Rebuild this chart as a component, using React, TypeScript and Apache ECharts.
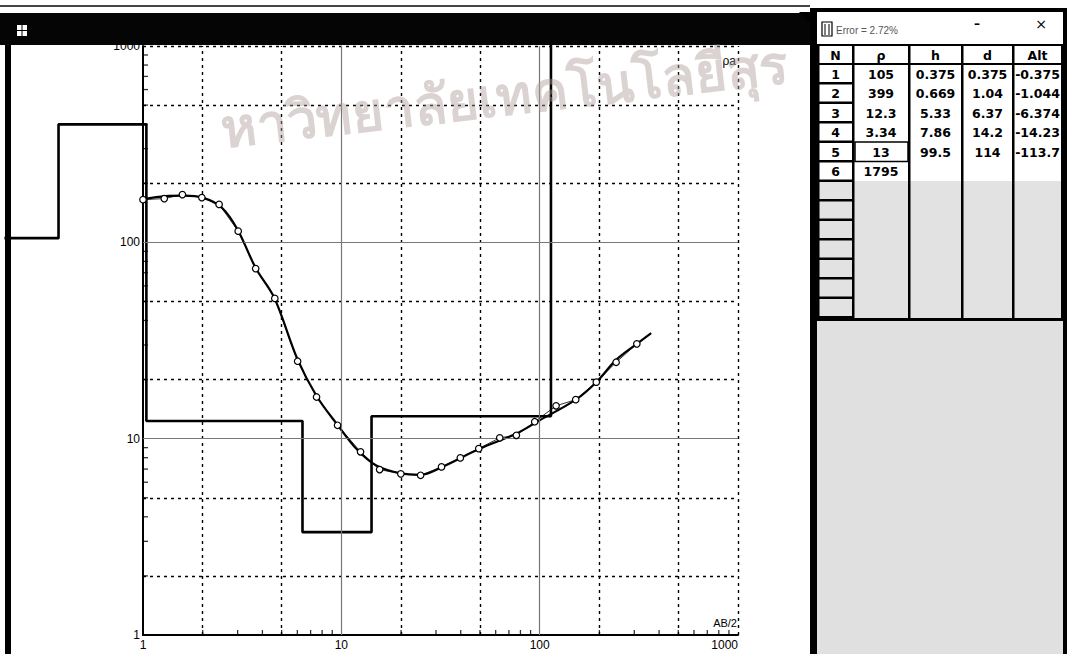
import React, { useEffect, useRef } from "react";
import * as echarts from "echarts";

// Observed apparent resistivity (AB/2 [m], rho_a [Ohm.m])
const abHalf = [1, 1.28, 1.58, 1.98, 2.42, 3.02, 3.7, 4.62, 6.02, 7.5, 9.57, 12.5, 15.6, 19.95, 25.1, 32, 39.8, 49.3, 62.9, 76.3, 94.4, 121, 152, 193, 243, 309];
const rhoObs = [165, 167, 175, 169, 156, 114, 73.5, 51.8, 24.8, 16.3, 11.7, 8.57, 6.96, 6.62, 6.51, 7.18, 7.98, 8.9, 10.1, 10.4, 12.2, 14.7, 15.8, 19.4, 24.5, 30.4];

// Calculated model curve
const curveAB = [1, 1.3, 1.6, 2, 2.5, 3, 3.7, 4.6, 6, 7.5, 9.6, 12, 15, 20, 25, 32, 50, 76, 100, 152, 193, 243, 309, 365];
const curveRho = [166, 172, 173, 169, 150, 116, 74, 52, 25.5, 16.5, 11.7, 8.8, 7.3, 6.65, 6.55, 7.15, 8.9, 10.6, 12.4, 15.8, 19.4, 25.2, 30.4, 34.5];

// Layered model
const layerRho = [105, 399, 12.3, 3.34, 13, 1795];
const layerH = [0.375, 0.669, 5.33, 7.86, 99.5];
const layerDepth = [0.375, 1.04, 6.37, 14.2, 114];
const layerAlt = ["-0.375", "-1.044", "-6.374", "-14.23", "-113.7"];
const modelStartDepth = 0.2;

const minorTicks = [2, 3, 4, 5, 6, 7, 8, 9, 20, 30, 40, 50, 60, 70, 80, 90, 200, 300, 400, 500, 600, 700, 800, 900];
const dashedGrid = [2, 5, 20, 50, 200, 500, 1000];
const solidGrid = [10, 100];
const errorText = "Error = 2.72%";
const headers = ["N", "ρ", "h", "d", "Alt"];
const watermark = "หาวิทยาลัยเทคโนโลยีสุร";

// step model split at AB/2 = 1 (left part drawn in the strip left of the axis)
const stepAll: number[][] = [[modelStartDepth, layerRho[0]]];
layerDepth.forEach((d, i) => {
  stepAll.push([d, layerRho[i]]);
  stepAll.push([d, layerRho[i + 1]]);
});
const rhoAtOne = layerRho[layerDepth.findIndex((d) => d > 1)];
const stepLeft = [...stepAll.filter((p) => p[0] < 1), [1, rhoAtOne]];
const stepMain = [[1, rhoAtOne], ...stepAll.filter((p) => p[0] > 1)];

const FONT = "DejaVu Sans";

function buildTable(): any[] {
  const els: any[] = [];
  const colEdges = [818, 853, 909, 962, 1013, 1062];
  const rowTop0 = 65;
  const pitch = 19.5;
  const totalRows = 13;
  const tableBottom = 318;
  const stip = "#e2e2e2";
  els.push({ type: "rect", shape: { x: 810, y: 8, width: 257, height: 646 }, style: { fill: "#000" }, z: 100 });
  els.push({ type: "polygon", shape: { points: [[799, 12], [818, 12], [813, 26]] }, style: { fill: "#000" }, z: 101 });
  els.push({ type: "rect", shape: { x: 817, y: 12, width: 246, height: 32 }, style: { fill: "#fff" }, z: 101 });
  els.push({ type: "rect", shape: { x: 822, y: 22, width: 10, height: 14 }, style: { fill: "#fff", stroke: "#000", lineWidth: 1.2 }, z: 102 });
  els.push({ type: "line", shape: { x1: 825, y1: 24, x2: 825, y2: 35 }, style: { stroke: "#000", lineWidth: 1 }, z: 102 });
  els.push({ type: "line", shape: { x1: 829, y1: 24, x2: 829, y2: 35 }, style: { stroke: "#000", lineWidth: 1 }, z: 102 });
  els.push({ type: "text", x: 836, y: 30, style: { text: errorText, fontSize: 10, fontFamily: "Liberation Sans", fill: "#555", textVerticalAlign: "middle" }, z: 102 });
  els.push({ type: "text", x: 977, y: 24, style: { text: "–", fontSize: 12, fontWeight: "bold", fontFamily: FONT, fill: "#000", textAlign: "center", textVerticalAlign: "middle" }, z: 102 });
  els.push({ type: "text", x: 1041, y: 24, style: { text: "×", fontSize: 14, fontFamily: FONT, fill: "#000", textAlign: "center", textVerticalAlign: "middle" }, z: 102 });
  for (let c = 0; c < 5; c++) {
    const x0 = colEdges[c] + 1.5;
    const w = colEdges[c + 1] - colEdges[c] - 2.5;
    els.push({ type: "rect", shape: { x: x0, y: 46, width: w, height: 17 }, style: { fill: "#fff" }, z: 101 });
    els.push({ type: "text", x: (colEdges[c] + colEdges[c + 1]) / 2, y: 55, style: { text: headers[c], fontSize: 12.5, fontWeight: "bold", fontFamily: FONT, fill: "#000", textAlign: "center", textVerticalAlign: "middle" }, z: 103 });
  }
  for (let r = 0; r < totalRows; r++) {
    const y0 = rowTop0 + r * pitch;
    const h = Math.min(pitch - 2.5, tableBottom - y0 - 1);
    els.push({ type: "rect", shape: { x: 819.5, y: y0, width: 32.5, height: h }, style: { fill: r < 6 ? "#fff" : stip }, z: 101 });
    if (r < 6) {
      els.push({ type: "text", x: 835.5, y: y0 + h / 2 + 0.5, style: { text: String(r + 1), fontSize: 12.5, fontWeight: "bold", fontFamily: FONT, fill: "#000", textAlign: "center", textVerticalAlign: "middle" }, z: 103 });
    }
  }
  const colTexts: string[][] = [
    layerRho.map((v) => String(v)),
    layerH.map((v) => String(v)),
    layerDepth.map((v) => String(v)),
    layerAlt,
  ];
  for (let c = 1; c < 5; c++) {
    const x0 = colEdges[c] + 1.5;
    const w = colEdges[c + 1] - colEdges[c] - 2.5;
    const split = rowTop0 + 6 * pitch - 1;
    els.push({ type: "rect", shape: { x: x0, y: rowTop0, width: w, height: split - rowTop0 }, style: { fill: "#fff" }, z: 101 });
    els.push({ type: "rect", shape: { x: x0, y: split, width: w, height: tableBottom - split }, style: { fill: stip }, z: 101 });
    colTexts[c - 1].forEach((t, r) => {
      const y0 = rowTop0 + r * pitch;
      els.push({ type: "text", x: (colEdges[c] + colEdges[c + 1]) / 2, y: y0 + (pitch - 2.5) / 2 + 0.5, style: { text: t, fontSize: 12.5, fontWeight: "bold", fontFamily: FONT, fill: "#000", textAlign: "center", textVerticalAlign: "middle" }, z: 103 });
    });
  }
  els.push({ type: "rect", shape: { x: 855, y: rowTop0 + 4 * pitch - 1, width: 53, height: pitch }, style: { fill: "none", stroke: "#000", lineWidth: 1.5 }, z: 104 });
  els.push({ type: "rect", shape: { x: 817, y: 321, width: 246, height: 333 }, style: { fill: "#e0e0e0" }, z: 101 });
  return els;
}

function buildOption(): any {
  const dashStyle = { type: [3, 4], color: "#000", width: 1.4 };
  const solidStyle = { type: "solid", color: "#777", width: 1.2 };
  const markData: any[] = [];
  dashedGrid.forEach((v) => {
    markData.push({ xAxis: v, lineStyle: dashStyle });
    markData.push({ yAxis: v, lineStyle: dashStyle });
  });
  solidGrid.forEach((v) => {
    markData.push({ xAxis: v, lineStyle: solidStyle });
    markData.push({ yAxis: v, lineStyle: solidStyle });
  });

  const axisCommon = {
    type: "log",
    logBase: 10,
    min: 1,
    max: 1000,
    axisTick: { show: false },
    minorTick: { show: false },
    splitLine: { show: false },
    minorSplitLine: { show: false },
    axisLine: { show: true, onZero: false, lineStyle: { color: "#000", width: 2 } },
  };
  const labelCommon = { color: "#000", fontSize: 12, fontFamily: "Liberation Sans", formatter: (v: number) => String(v) };

  const graphics: any[] = [
    { type: "rect", shape: { x: 0, y: 0, width: 810, height: 13 }, style: { fill: "#fff" }, z: 100 },
    { type: "rect", shape: { x: 0, y: 5, width: 810, height: 2 }, style: { fill: "#444" }, z: 100 },
    { type: "rect", shape: { x: 0, y: 13, width: 810, height: 32 }, style: { fill: "#050505" }, z: 100 },
    { type: "rect", shape: { x: 17, y: 25, width: 10, height: 11 }, style: { fill: "#fff" }, z: 101 },
    { type: "line", shape: { x1: 22, y1: 25, x2: 22, y2: 36 }, style: { stroke: "#000", lineWidth: 1 }, z: 102 },
    { type: "line", shape: { x1: 17, y1: 30.5, x2: 27, y2: 30.5 }, style: { stroke: "#000", lineWidth: 1 }, z: 102 },
    { type: "rect", shape: { x: 5, y: 45, width: 6, height: 609 }, style: { fill: "#000" }, z: 100 },
    { type: "text", x: 736, y: 61, style: { text: "ρa", fontSize: 12, fontFamily: "Liberation Sans", fill: "#000", textAlign: "right", textVerticalAlign: "middle" }, z: 50 },
    { type: "text", x: 737, y: 623, style: { text: "AB/2", fontSize: 11, fontFamily: "Liberation Sans", fill: "#000", textAlign: "right", textVerticalAlign: "middle" }, z: 50 },
    ...buildTable(),
    { type: "text", x: 224, y: 156, rotation: 0.115, style: { text: watermark, fontSize: 54, fontWeight: "bold", fill: "#b09c9c", opacity: 0.45, textVerticalAlign: "bottom" }, z: 200, silent: true },
  ];

  return {
    animation: false,
    backgroundColor: "#fff",
    grid: [
      { left: 143, top: 46, width: 595, height: 589 },
      { left: 4.4, top: 46, width: 138.6, height: 589 },
    ],
    xAxis: [
      { ...axisCommon, gridIndex: 0, axisLabel: { ...labelCommon, margin: 4, alignMaxLabel: "right" } },
      { type: "log", logBase: 10, min: modelStartDepth, max: 1, gridIndex: 1, show: false },
    ],
    yAxis: [
      { ...axisCommon, gridIndex: 0, axisLabel: { ...labelCommon, margin: 3 } },
      { type: "log", logBase: 10, min: 1, max: 1000, gridIndex: 1, show: false },
    ],
    graphic: graphics,
    series: [
      {
        type: "line",
        data: [],
        silent: true,
        z: 1,
        markLine: {
          silent: true,
          symbol: ["none", "none"],
          label: { show: false },
          emphasis: { disabled: true },
          animation: false,
          data: markData,
        },
      },
      {
        type: "scatter",
        data: minorTicks.map((v) => [v, 1]),
        symbol: "rect",
        symbolSize: [1.3, 5],
        symbolOffset: [0, -2.5],
        itemStyle: { color: "#000" },
        silent: true,
        clip: false,
        z: 2,
      },
      {
        type: "scatter",
        data: minorTicks.map((v) => [1, v]),
        symbol: "rect",
        symbolSize: [5, 1.3],
        symbolOffset: [2.5, 0],
        itemStyle: { color: "#000" },
        silent: true,
        clip: false,
        z: 2,
      },
      {
        type: "line",
        xAxisIndex: 1,
        yAxisIndex: 1,
        data: stepLeft,
        symbol: "none",
        showSymbol: false,
        clip: false,
        lineStyle: { color: "#000", width: 2.6 },
        silent: true,
        z: 3,
      },
      {
        type: "line",
        data: stepMain,
        symbol: "none",
        showSymbol: false,
        clip: false,
        lineStyle: { color: "#000", width: 2.6 },
        silent: true,
        z: 3,
      },
      {
        type: "line",
        data: curveAB.map((x, i) => [x, curveRho[i]]),
        symbol: "none",
        showSymbol: false,
        smooth: 0.35,
        lineStyle: { color: "#000", width: 2.2 },
        silent: true,
        z: 4,
      },
      {
        type: "line",
        data: abHalf.map((x, i) => [x, rhoObs[i]]),
        symbol: "circle",
        symbolSize: 6.5,
        showSymbol: true,
        lineStyle: { color: "#000", width: 0.8 },
        itemStyle: { color: "#fff", borderColor: "#000", borderWidth: 1.2 },
        silent: true,
        z: 5,
      },
    ],
  };
}

export default function App() {
  const ref = useRef<HTMLDivElement>(null);
  useEffect(() => {
    if (!ref.current) return;
    const chart = echarts.init(ref.current, null, { renderer: "svg" });
    chart.setOption(buildOption());
    return () => chart.dispose();
  }, []);
  return (
    <div
      ref={ref}
      style={{ position: "fixed", left: 0, top: 0, width: 1067, height: 654, background: "#fff" }}
    />
  );
}
